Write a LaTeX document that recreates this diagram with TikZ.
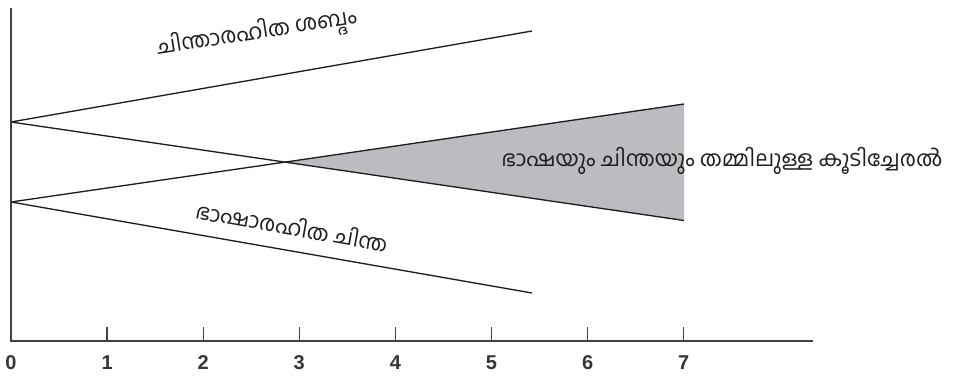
\documentclass[tikz,border=0pt]{standalone}
\usepackage{fontspec}
\setmainfont{Liberation Sans}
\newfontfamily\mlfont[Script=Malayalam]{Hind Kochi}
\usetikzlibrary{intersections}
\definecolor{shadegray}{RGB}{187,188,192}
\definecolor{ink}{RGB}{30,30,30}
\begin{document}
\begin{tikzpicture}[x=0.75pt,y=-0.75pt,
  trend/.style={draw=ink,line width=1pt},
  axisline/.style={draw=ink!85,line width=1.1pt},
  tickmark/.style={draw=ink!85,line width=1pt},
  num/.style={font=\bfseries\fontsize{15}{15}\selectfont,text=ink!90,inner sep=0pt},
  lbl/.style={font=\mlfont\fontsize{16.3}{18}\selectfont,text=ink,inner sep=0pt}]
\useasboundingbox (0,0) rectangle (953,383);
\coordinate (O) at (11,341);
\coordinate (Ytop) at (11,8);
\coordinate (Xend) at (813,341);
\coordinate (A) at (11,122);
\coordinate (B) at (11,202);
\coordinate (A1) at (532,31);
\coordinate (A2) at (684,220.5);
\coordinate (B1) at (684,104);
\coordinate (B2) at (532,293);
\path[name path=pa] (A) -- (A2);
\path[name path=pb] (B) -- (B1);
\path[name intersections={of=pa and pb,by=X}];
\fill[shadegray] (X) -- (B1) -- (A2) -- cycle;
\draw[trend] (A) -- (A1);
\draw[trend] (A) -- (A2);
\draw[trend] (B) -- (B1);
\draw[trend] (B) -- (B2);
\draw[axisline] (Ytop) -- (O) -- (Xend);
\node[num] (n0) at (11,363) {0};
\foreach \i in {1,...,7}{
  \coordinate (t\i) at ({11+96.1*\i},327);
  \coordinate (b\i) at ({11+96.1*\i},341);
  \draw[tickmark] (t\i) -- (b\i);
  \node[num] (n\i) at ({11+96.1*\i},363) {\i};
}
\node[lbl,rotate=9] (l1) at (257,34) {ചിന്താരഹിത ശബ്ദം};
\node[lbl,rotate=-10] (l2) at (292,226) {ഭാഷാരഹിത ചിന്ത};
\node[lbl] (l3) at (722,161) {ഭാഷയും ചിന്തയും തമ്മിലുള്ള കൂടിച്ചേരൽ};
\end{tikzpicture}
\end{document}
